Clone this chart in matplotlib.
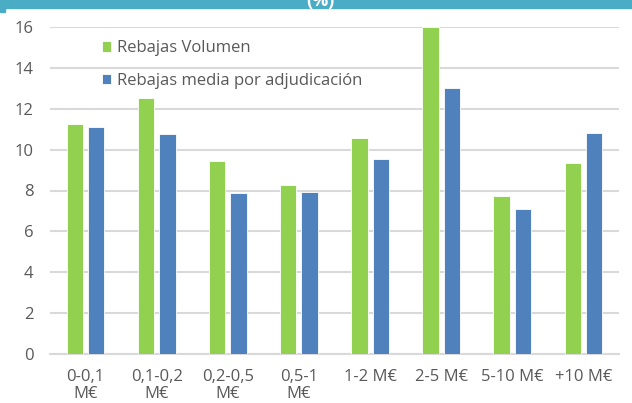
import numpy as np
import matplotlib
matplotlib.use('Agg')
import matplotlib.pyplot as plt
from matplotlib.patches import Rectangle

# Data
categories = ['0-0,1\nM€', '0,1-0,2\nM€', '0,2-0,5\nM€', '0,5-1\nM€',
              '1-2 M€', '2-5 M€', '5-10 M€', '+10 M€']
rebajas_volumen = [11.25, 12.55, 9.45, 8.25, 10.55, 16.0, 7.75, 9.35]
rebajas_media = [11.1, 10.75, 7.9, 7.95, 9.55, 13.0, 7.1, 10.8]

green = '#92D050'
blue = '#4F81BD'
grey_txt = '#595959'
grid_col = '#D9D9D9'

plt.rcParams['font.family'] = ['Open Sans', 'DejaVu Sans']

fig = plt.figure(figsize=(6.32, 4.03), dpi=100)
ax = fig.add_axes([50 / 632, 1 - 354 / 403, 569 / 632, 327 / 403])

x = np.arange(len(categories))
w = 0.23
ax.bar(x - 0.15, rebajas_volumen, w, color=green, edgecolor='white', linewidth=0.6,
       label='Rebajas Volumen', zorder=3)
ax.bar(x + 0.15, rebajas_media, w, color=blue, edgecolor='white', linewidth=0.6,
       label='Rebajas media por adjudicación', zorder=3)

ax.set_xlim(-0.5, len(categories) - 0.5)
ax.set_ylim(0, 16)
ax.set_yticks(range(0, 17, 2))
ax.yaxis.grid(True, color=grid_col, linewidth=1.5, zorder=0)
ax.set_axisbelow(True)
for s in ['top', 'right', 'left']:
    ax.spines[s].set_visible(False)
ax.spines['bottom'].set_color(grid_col)
ax.spines['bottom'].set_linewidth(1.5)

ax.set_xticks(x)
ax.set_xticklabels(categories, linespacing=1.05)
ax.tick_params(axis='both', length=0, labelsize=12, colors=grey_txt)
ax.tick_params(axis='y', pad=12)
ax.tick_params(axis='x', pad=11)

leg = ax.legend(loc='upper left', bbox_to_anchor=(0.079, 0.98), borderaxespad=0,
                frameon=False, fontsize=12, handlelength=0.55, handleheight=0.6,
                handletextpad=0.35, labelspacing=1.0, labelcolor=grey_txt)

# Top banner of the original slide
fig.patches.append(Rectangle((0, 1 - 8 / 403), 1, 8 / 403, transform=fig.transFigure,
                             color='#4BACC6', zorder=0))
fig.patches.append(Rectangle((0, 1 - 12 / 403), 5 / 632, 12 / 403, transform=fig.transFigure,
                             color='#4BACC6', zorder=0))
fig.text(320 / 632, 1 - 6 / 403, '(%)', color='white', fontsize=13, fontweight='bold',
         ha='center', va='baseline')

fig.savefig('out.png', dpi=100)
